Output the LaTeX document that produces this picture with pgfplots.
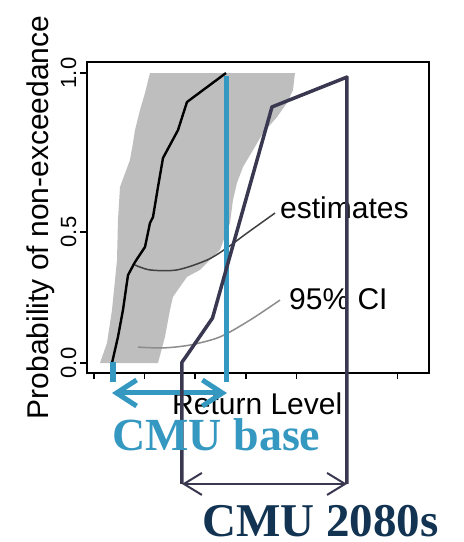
\documentclass[border=0pt]{standalone}
\usepackage{pgfplots}
\pgfplotsset{compat=1.18}
\usepackage{pgfplotstable}
\usetikzlibrary{arrows.meta}
\usepackage{fontspec}
\setmainfont{Liberation Sans}
\newfontfamily\tnr{Liberation Serif}
\definecolor{cmublue}{RGB}{52,152,192}
\definecolor{cmudark}{RGB}{58,56,80}
\definecolor{cmunavy}{RGB}{18,52,82}
\definecolor{cigray}{RGB}{190,190,190}

% 95% confidence band (polygon)
\pgfplotstableread{
x y
1.107 1.000
1.008 0.931
0.909 0.872
0.810 0.803
0.771 0.759
0.711 0.700
0.514 0.607
0.474 0.493
0.455 0.355
0.356 0.183
0.257 0.069
0.119 0.000
1.265 0.000
1.403 0.090
1.502 0.183
1.561 0.228
1.838 0.297
2.095 0.321
2.490 0.390
2.688 0.483
2.747 0.562
2.826 0.621
2.945 0.676
3.142 0.734
3.340 0.793
3.617 0.848
3.814 0.897
3.933 0.941
3.972 1.000
}\bandtable

% estimates
\pgfplotstableread{
x y
0.356 0.000
0.474 0.090
0.573 0.183
0.672 0.303
0.810 0.348
1.008 0.400
1.107 0.483
1.166 0.503
1.265 0.607
1.364 0.707
1.660 0.803
1.838 0.900
2.609 1.000
}\esttable

% CMU 2080s curve
\pgfplotstableread{
x y
1.739 -0.417
1.739 0.003
1.798 0.017
2.342 0.155
3.518 0.883
5.000 0.986
5.000 -0.417
}\futtable

\begin{document}
\begin{tikzpicture}
\useasboundingbox (0pt,0pt) rectangle (464pt,542pt);
\begin{axis}[
  at={(86.7pt,169.3pt)}, anchor=south west,
  scale only axis, width=342.6pt, height=311pt,
  xmin=-0.144, xmax=6.627, ymin=-0.0334, ymax=1.039,
  xtick={0,1,2,3,4,5,6}, xticklabels={},
  ytick={0,0.4517,1}, yticklabels={0.0,0.5,1.0},
  tick align=outside, xtick pos=left, ytick pos=left,
  major tick length=6.5pt,
  tick style={black, line width=1.6pt},
  axis line style={black, line width=1.8pt},
  yticklabel shift=4pt,
  yticklabel style={rotate=90, anchor=base, inner sep=0pt,
    font=\fontsize{22}{22}\selectfont},
  clip=false,
]
\addplot[fill=cigray, draw=none] table {\bandtable} -- cycle;
\addplot[black, line width=2.4pt, line join=round] table {\esttable};

% pointer curves
\addplot[smooth, color=black!75, line width=1.5pt] coordinates
  {(0.810,0.338) (1.107,0.321) (1.640,0.321) (2.233,0.355) (2.628,0.397) (3.024,0.448) (3.577,0.517)};
\addplot[smooth, color=black!45, line width=1.5pt] coordinates
  {(0.870,0.055) (1.364,0.052) (1.897,0.062) (2.490,0.090) (3.083,0.148) (3.676,0.217)};

\node[anchor=base west, inner sep=0pt, font=\fontsize{30}{30}\selectfont] at (axis cs:3.676,0.500) {estimates};
\node[anchor=base west, inner sep=0pt, font=\fontsize{30}{30}\selectfont] at (axis cs:3.854,0.186) {95\% CI};
\node[anchor=base west, inner sep=0pt, font=\fontsize{30}{30}\selectfont] at (axis cs:1.542,-0.176) {Return Level};
\node[rotate=90, anchor=base, inner sep=0pt, font=\fontsize{30}{30}\selectfont] at (axis cs:-0.899,0.502) {Probability of non-exceedance};

% CMU base markers
\addplot[cmublue, line width=5pt] coordinates {(2.624,0.990) (2.624,-0.0646)};
\addplot[cmublue, line width=6pt] coordinates {(0.375,0.003) (0.375,-0.0655)};
\addplot[cmublue, line width=5pt, {Straight Barb[length=20pt,width=26pt]}-{Straight Barb[length=20pt,width=26pt]}]
  coordinates {(0.356,-0.1034) (2.628,-0.1034)};

% CMU 2080s markers
\addplot[cmudark, line width=3.5pt, line join=round] table {\futtable};
\addplot[cmudark, line width=2pt, {Straight Barb[length=18pt,width=22pt]}-{Straight Barb[length=18pt,width=22pt]}]
  coordinates {(1.739,-0.417) (5.000,-0.417)};

\node[anchor=base west, inner sep=0pt, text=cmublue, font=\tnr\bfseries\fontsize{46}{46}\selectfont] at (axis cs:0.356,-0.300) {CMU base};
\node[anchor=base west, inner sep=0pt, text=cmunavy, font=\tnr\bfseries\fontsize{47}{47}\selectfont] at (axis cs:2.134,-0.597) {CMU 2080s};
\end{axis}
\end{tikzpicture}
\end{document}
